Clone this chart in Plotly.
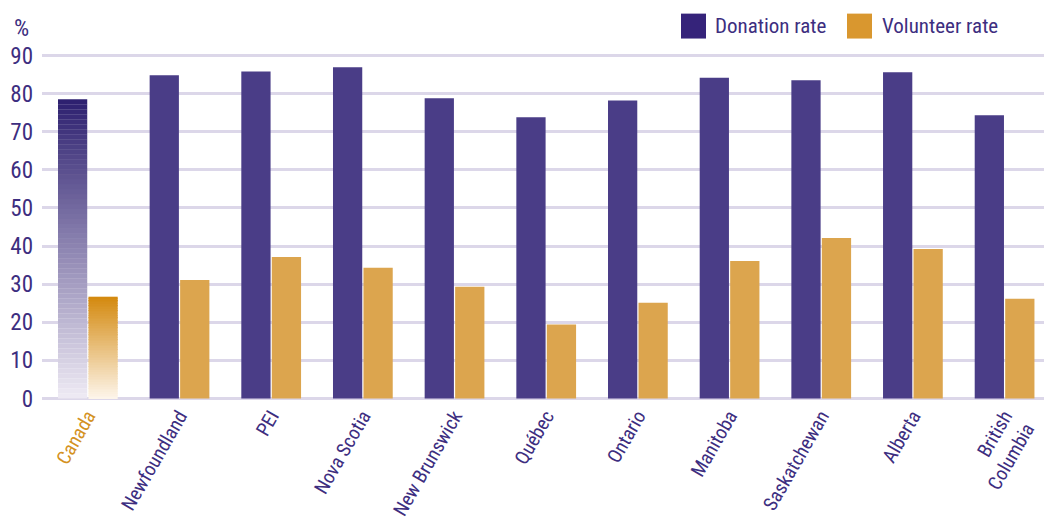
import plotly.graph_objects as go

categories = ["Canada", "Newfoundland", "PEI", "Nova Scotia", "New Brunswick", "Québec",
              "Ontario", "Manitoba", "Saskatchewan", "Alberta", "British<br>Columbia"]
donation_rate = [78.5, 84.8, 85.8, 86.9, 78.8, 73.8, 78.2, 84.2, 83.5, 85.6, 74.3]
volunteer_rate = [26.7, 31.1, 37.1, 34.3, 29.3, 19.4, 25.1, 36.1, 42.1, 39.2, 26.2]
y_ticks = [0, 10, 20, 30, 40, 50, 60, 70, 80, 90]

FONT = "Liberation Sans Narrow, Roboto Condensed, DejaVu Sans Condensed, Arial Narrow, sans-serif"
PURPLE_TXT = "#3d2e80"
DON = "#4a3d87"
VOL = "#dca54e"

L, T, B = 42, 53.5, 121.5
PW, PH = 1044 - L, 522 - T - B


def lerp(c1, c2, t):
    a = [int(c1[i:i + 2], 16) for i in (1, 3, 5)]
    b = [int(c2[i:i + 2], 16) for i in (1, 3, 5)]
    return "rgb(%d,%d,%d)" % tuple(round(a[k] + (b[k] - a[k]) * t) for k in range(3))


def px(x):
    return (x - L) / PW


def py(y):
    return (522 - B - y) / PH


N = 60
fig = go.Figure()

# Canada gradient bars (built as thin stacked slices from the data value)
for val, top_c, bot_c, grp in [(donation_rate[0], "#2e2170", "#ede9f3", "d"),
                               (volunteer_rate[0], "#d48a10", "#fdf5ea", "v")]:
    step = val / N
    fig.add_trace(go.Bar(
        x=[categories[0]] * N,
        y=[step * 1.02] * N,
        base=[step * k for k in range(N)],
        marker=dict(color=[lerp(bot_c, top_c, k / (N - 1)) for k in range(N)], line=dict(width=0)),
        offsetgroup=grp, showlegend=False, hoverinfo="skip",
    ))

fig.add_trace(go.Bar(x=categories[1:], y=donation_rate[1:], name="Donation rate",
                     marker=dict(color=DON, line=dict(width=0)), offsetgroup="d", showlegend=False))
fig.add_trace(go.Bar(x=categories[1:], y=volunteer_rate[1:], name="Volunteer rate",
                     marker=dict(color=VOL, line=dict(width=0)), offsetgroup="v", showlegend=False))

ticktext = ['<span style="color:#d4921f">Canada</span>'] + categories[1:]

fig.update_layout(
    template="none",
    width=1044, height=522,
    margin=dict(l=L, r=0, t=T, b=B, autoexpand=False),
    paper_bgcolor="white", plot_bgcolor="white",
    showlegend=False,
    barmode="group", bargap=0.335, bargroupgap=0.04,
    font=dict(family=FONT, color=PURPLE_TXT),
    xaxis=dict(type="category", categoryorder="array", categoryarray=categories,
               tickmode="array", tickvals=categories, ticktext=ticktext, automargin=False,
               tickangle=-60, tickfont=dict(size=19.5, color=PURPLE_TXT, family=FONT),
               showgrid=False, showline=False, zeroline=False, ticks="", range=[-0.5, 10.43]),
    yaxis=dict(range=[-0.4, 90.4], tickvals=y_ticks, showgrid=True, gridcolor="#dcd7e9",
               gridwidth=3, zeroline=False, showline=False, ticks="", automargin=False,
               tickfont=dict(size=23, color=PURPLE_TXT, family=FONT), ticklabelstandoff=8),
    shapes=[
        dict(type="rect", xref="paper", yref="paper", x0=px(681), x1=px(706),
             y0=py(38), y1=py(13), fillcolor="#35237a", line=dict(width=0)),
        dict(type="rect", xref="paper", yref="paper", x0=px(847), x1=px(872),
             y0=py(38), y1=py(13), fillcolor="#d9972f", line=dict(width=0)),
    ],
    annotations=[
        dict(text="Donation rate", xref="paper", yref="paper", x=px(713), y=py(25),
             xanchor="left", yanchor="middle", showarrow=False,
             font=dict(size=21, color=PURPLE_TXT, family=FONT)),
        dict(text="Volunteer rate", xref="paper", yref="paper", x=px(880), y=py(25),
             xanchor="left", yanchor="middle", showarrow=False,
             font=dict(size=21, color=PURPLE_TXT, family=FONT)),
        dict(text="%", xref="paper", yref="paper", x=px(21), y=py(27),
             xanchor="center", yanchor="middle", showarrow=False,
             font=dict(size=24, color=PURPLE_TXT, family=FONT)),
    ],
)

fig.write_html("out.html", config={"displayModeBar": False},
               post_script="document.body.style.margin='0';document.body.style.padding='0';")
